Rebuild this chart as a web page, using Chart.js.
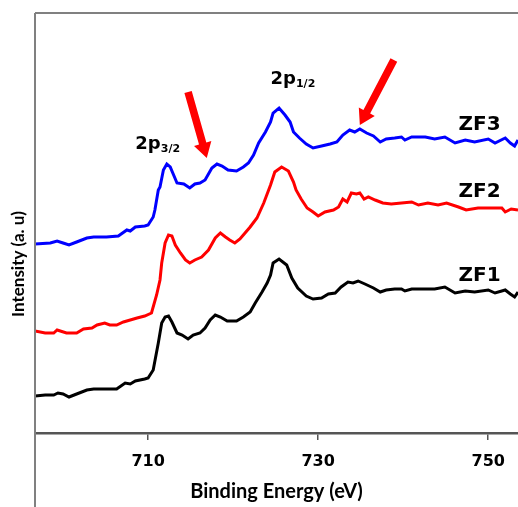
<!DOCTYPE html>
<html>
<head>
<meta charset="utf-8">
<script src="https://cdn.jsdelivr.net/npm/chart.js@4"></script>
<style>
  body { margin: 0; background: #fff; }
  canvas { display: block; }
</style>
</head>
<body>
<canvas id="xps" width="518" height="507"></canvas>
<script>
// binding energy (eV) / intensity (a.u.)
const energyZF1 = [696.7, 697.9, 698.9, 699.4, 700.0, 700.7, 701.6, 702.8, 703.6, 705.1, 706.3, 707.3, 707.9, 708.5, 709.6, 710.0, 710.6, 711.2, 711.6, 712.0, 712.4, 712.8, 713.4, 714.0, 714.7, 715.3, 716.1, 716.7, 717.3, 717.9, 718.5, 719.3, 720.4, 721.2, 722.0, 722.6, 723.4, 724.0, 724.4, 724.7, 725.4, 726.3, 726.9, 727.6, 728.6, 729.4, 730.4, 731.2, 732.0, 732.7, 733.5, 734.1, 734.7, 735.5, 736.5, 737.3, 738.0, 739.0, 739.8, 740.2, 741.0, 742.6, 743.7, 744.9, 746.1, 747.3, 748.4, 750.0, 750.8, 752.0, 752.6, 753.1, 753.5];
const intensityZF1 = [37, 38, 38, 40, 39, 36, 39, 43, 44, 44, 44, 50, 49, 52, 54, 55, 63, 90, 110, 116, 117, 111, 100, 98, 94, 98, 100, 105, 113, 118, 116, 112, 112, 116, 121, 130, 141, 150, 158, 170, 174, 168, 155, 145, 137, 134, 135, 139, 140, 146, 151, 150, 152, 149, 145, 141, 143, 144, 144, 142, 144, 144, 144, 146, 140, 142, 141, 143, 140, 143, 139, 136, 141];

const energyZF2 = [696.7, 697.9, 698.9, 699.3, 700.4, 701.6, 702.4, 703.4, 704.0, 704.9, 705.5, 706.3, 707.1, 707.9, 708.7, 709.6, 710.4, 711.0, 711.4, 711.6, 712.0, 712.4, 712.8, 713.2, 713.8, 714.4, 714.9, 715.5, 716.3, 717.1, 717.9, 718.5, 719.1, 719.6, 720.2, 720.8, 721.4, 722.0, 722.8, 723.6, 724.4, 724.9, 725.7, 726.5, 727.1, 727.4, 728.0, 728.7, 729.4, 730.0, 730.8, 731.8, 732.4, 732.9, 733.4, 733.9, 734.5, 734.9, 735.4, 735.9, 736.7, 737.6, 738.6, 739.8, 741.0, 741.8, 742.9, 744.1, 745.1, 746.5, 747.4, 748.8, 750.4, 751.6, 752.0, 752.7, 753.5];
const intensityZF2 = [102, 100, 100, 103, 100, 100, 104, 105, 108, 110, 108, 108, 111, 113, 115, 117, 120, 138, 153, 170, 190, 198, 197, 188, 180, 173, 170, 173, 176, 183, 195, 200, 196, 193, 190, 194, 200, 206, 215, 230, 248, 261, 266, 262, 251, 243, 234, 225, 221, 217, 221, 223, 226, 234, 231, 240, 239, 240, 234, 236, 233, 230, 229, 230, 231, 228, 230, 228, 230, 226, 223, 225, 225, 225, 221, 224, 223];

const energyZF3 = [696.7, 698.5, 699.3, 700.0, 700.7, 701.6, 702.8, 703.6, 705.1, 706.5, 707.5, 707.9, 708.5, 709.6, 710.0, 710.6, 710.8, 711.2, 711.4, 711.8, 712.2, 712.6, 713.4, 714.2, 714.9, 715.5, 716.1, 716.7, 717.5, 718.1, 718.7, 719.4, 720.4, 721.2, 721.8, 722.4, 723.0, 723.8, 724.4, 724.7, 725.4, 726.1, 726.7, 727.1, 727.8, 728.6, 729.4, 730.4, 731.4, 732.2, 732.9, 733.7, 734.3, 734.9, 735.7, 736.5, 737.3, 738.0, 739.0, 739.8, 740.2, 741.0, 742.6, 743.7, 744.9, 746.1, 747.3, 748.4, 750.0, 750.8, 752.0, 752.6, 753.1, 753.5];
const intensityZF3 = [189, 190, 192, 190, 188, 191, 195, 196, 196, 197, 203, 202, 206, 207, 208, 216, 223, 243, 246, 263, 269, 266, 250, 249, 245, 249, 250, 253, 265, 269, 267, 263, 262, 266, 270, 278, 290, 301, 311, 320, 325, 318, 311, 301, 295, 289, 285, 287, 289, 291, 298, 303, 301, 304, 300, 297, 291, 294, 295, 296, 293, 296, 296, 294, 296, 290, 293, 291, 294, 290, 295, 290, 287, 293];

const xTicks = [710, 730, 750];

// annotations, in data units
const peakNames = ['2p', '2p'];
const peakSubs = ['3/2', '1/2'];
const peakX = [708.5, 724.4];
const peakY = [284, 349];
const sampleNames = ['ZF3', 'ZF2', 'ZF1'];
const sampleX = [746.5, 746.5, 746.5];
const sampleY = [303, 236, 152];
const arrowFrom = [[714.7, 341], [738.9, 373]];
const arrowTo = [[716.9, 275], [734.9, 308]];

function toPoints(xs, ys) {
    return xs.map(function (x, i) { return {x: x, y: ys[i]}; });
}

function drawArrow(ctx, x1, y1, x2, y2) {
    let dx = x2 - x1, dy = y2 - y1;
    let len = Math.sqrt(dx * dx + dy * dy);
    let ux = dx / len, uy = dy / len;
    let headLen = 15, headW = 9, shaftW = 3.8;
    let bx = x2 - ux * headLen, by = y2 - uy * headLen;
    ctx.beginPath();
    ctx.moveTo(x1 - uy * shaftW, y1 + ux * shaftW);
    ctx.lineTo(bx - uy * shaftW, by + ux * shaftW);
    ctx.lineTo(bx - uy * headW, by + ux * headW);
    ctx.lineTo(x2, y2);
    ctx.lineTo(bx + uy * headW, by - ux * headW);
    ctx.lineTo(bx + uy * shaftW, by - ux * shaftW);
    ctx.lineTo(x1 + uy * shaftW, y1 - ux * shaftW);
    ctx.closePath();
    ctx.fill();
}

const decor = {
    id: 'decor',
    afterDraw: function (chart) {
        const ctx = chart.ctx;
        const area = chart.chartArea;
        const xs = chart.scales.x, ys = chart.scales.y;
        ctx.save();
        // frame: top line and the long left line
        ctx.strokeStyle = '#808080';
        ctx.lineWidth = 2;
        ctx.beginPath();
        ctx.moveTo(area.left, area.top);
        ctx.lineTo(area.right, area.top);
        ctx.moveTo(area.left, area.top);
        ctx.lineTo(area.left, chart.height);
        ctx.stroke();

        // arrows
        ctx.fillStyle = '#ff0000';
        for (let i = 0; i < arrowFrom.length; i++) {
            drawArrow(ctx,
                xs.getPixelForValue(arrowFrom[i][0]), ys.getPixelForValue(arrowFrom[i][1]),
                xs.getPixelForValue(arrowTo[i][0]), ys.getPixelForValue(arrowTo[i][1]));
        }

        // peak labels with subscripts
        ctx.fillStyle = '#000';
        ctx.textBaseline = 'alphabetic';
        ctx.textAlign = 'left';
        for (let i = 0; i < peakNames.length; i++) {
            let px = xs.getPixelForValue(peakX[i]);
            let py = ys.getPixelForValue(peakY[i]);
            ctx.font = 'bold 18px "DejaVu Sans"';
            ctx.fillText(peakNames[i], px, py);
            let w = ctx.measureText(peakNames[i]).width;
            ctx.font = 'bold 11px "DejaVu Sans"';
            ctx.fillText(peakSubs[i], px + w, py + 3);
        }

        // sample names
        ctx.font = 'bold 20px "DejaVu Sans"';
        for (let i = 0; i < sampleNames.length; i++) {
            ctx.fillText(sampleNames[i], xs.getPixelForValue(sampleX[i]), ys.getPixelForValue(sampleY[i]));
        }

        // axis titles
        ctx.font = 'bold 20px Lato';
        ctx.textAlign = 'center';
        ctx.fillText('Binding Energy (eV)', 276.5, 498, 177);
        ctx.translate(19, 264);
        ctx.rotate(-Math.PI / 2);
        ctx.textBaseline = 'middle';
        ctx.font = 'bold 17px Lato';
        ctx.fillText('Intensity (a. u)', 0, 0, 118);
        ctx.restore();
    }
};

new Chart(document.getElementById('xps'), {
    type: 'line',
    data: {
        datasets: [
            {label: 'ZF3', data: toPoints(energyZF3, intensityZF3), borderColor: '#0000ff'},
            {label: 'ZF2', data: toPoints(energyZF2, intensityZF2), borderColor: '#ff0000'},
            {label: 'ZF1', data: toPoints(energyZF1, intensityZF1), borderColor: '#000000'}
        ]
    },
    options: {
        responsive: false,
        animation: false,
        layout: {padding: {left: 35, top: 13, right: 0, bottom: 0}},
        elements: {
            point: {radius: 0},
            line: {borderWidth: 3, tension: 0, fill: false}
        },
        plugins: {legend: {display: false}, tooltip: {enabled: false}},
        scales: {
            x: {
                type: 'linear',
                min: 696.7,
                max: 753.5,
                afterBuildTicks: function (scale) {
                    scale.ticks = xTicks.map(function (v) { return {value: v}; });
                },
                afterFit: function (scale) { scale.height = 74; },
                grid: {drawOnChartArea: false, drawTicks: true, tickLength: 7, color: '#555', lineWidth: 1.5},
                border: {color: '#555', width: 2.5},
                ticks: {
                    color: '#000',
                    padding: 12,
                    maxRotation: 0,
                    font: {family: 'DejaVu Sans', weight: 'bold', size: 16}
                }
            },
            y: {display: false, min: 0, max: 420}
        }
    },
    plugins: [decor]
});
</script>
</body>
</html>
